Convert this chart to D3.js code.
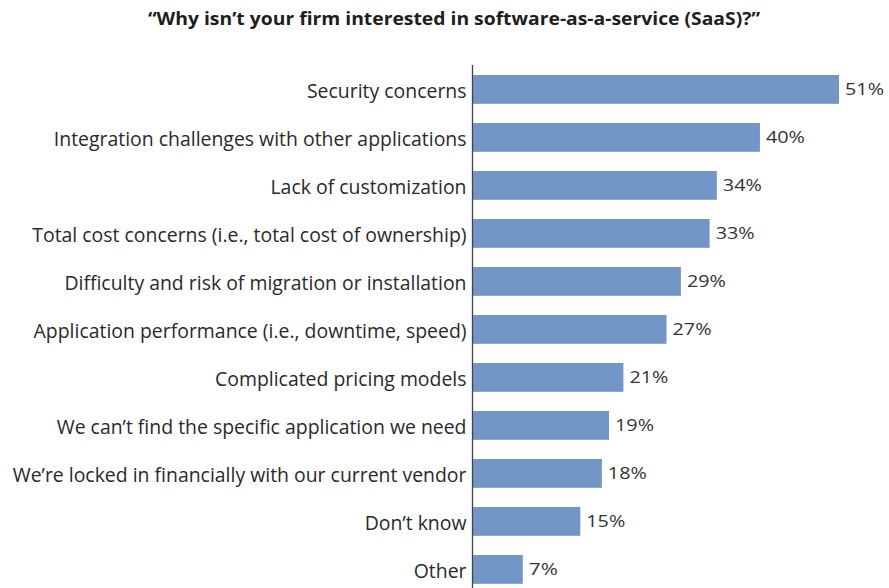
<!DOCTYPE html>
<html><head><meta charset="utf-8">
<script src="https://d3js.org/d3.v7.min.js"></script>
<style>body{margin:0;background:#fff}</style>
</head><body>
<script>
const categories = [
  "Security concerns",
  "Integration challenges with other applications",
  "Lack of customization",
  "Total cost concerns (i.e., total cost of ownership)",
  "Difficulty and risk of migration or installation",
  "Application performance (i.e., downtime, speed)",
  "Complicated pricing models",
  "We can\u2019t find the specific application we need",
  "We\u2019re locked in financially with our current vendor",
  "Don\u2019t know",
  "Other"
];
const values = [51, 40, 34, 33, 29, 27, 21, 19, 18, 15, 7];
const title = "\u201cWhy isn\u2019t your firm interested in software-as-a-service (SaaS)?\u201d";

const W = 889, H = 588;
const svg = d3.select("body").append("svg").attr("width", W).attr("height", H);
const font = "'Open Sans', 'Noto Sans', sans-serif";

const x = d3.scaleLinear().domain([0, 51]).range([472.5, 839]);
const y = d3.scaleBand().domain(categories).range([65.4, 593.4]).paddingInner(0.4).paddingOuter(0.2);

svg.append("text").attr("x", 454).attr("y", 25).attr("text-anchor", "middle")
  .attr("font-family", font).attr("font-weight", 700).attr("font-size", 18)
  .attr("fill", "#1e1e1e").text(title)
  .attr("textLength", 612).attr("lengthAdjust", "spacingAndGlyphs");

svg.selectAll("rect.bar").data(values).join("rect").attr("class", "bar")
  .attr("x", x(0)).attr("y", (d, i) => y(categories[i]))
  .attr("width", d => x(d) - x(0)).attr("height", y.bandwidth())
  .attr("fill", "#7396c9");

svg.selectAll("text.val").data(values).join("text").attr("class", "val")
  .attr("x", d => x(d) + 6).attr("y", (d, i) => y(categories[i]) + y.bandwidth() / 2 + 6)
  .attr("font-family", font).attr("font-size", 17).attr("fill", "#333")
  .attr("textLength", d => (String(d).length === 1 ? 29 : 39)).attr("lengthAdjust", "spacingAndGlyphs")
  .text(d => d + "%");

const axis = svg.append("g").attr("transform", `translate(${x(0)},0)`)
  .call(d3.axisLeft(y).tickSize(0).tickPadding(6));
axis.select(".domain").attr("stroke", "#444").attr("stroke-width", 1.3)
  .attr("d", `M0,65V588`);
const ticks = axis.selectAll(".tick text").attr("font-family", font).attr("font-size", 16)
  .attr("fill", "#2a2a2a").attr("dy", "0.42em");
// fit the widest label to the reference's label column width
let maxW = 0;
ticks.each(function(){ maxW = Math.max(maxW, this.getComputedTextLength()); });
const fs = 16 * 454 / maxW;
ticks.attr("font-size", fs);
</script>
</body></html>
